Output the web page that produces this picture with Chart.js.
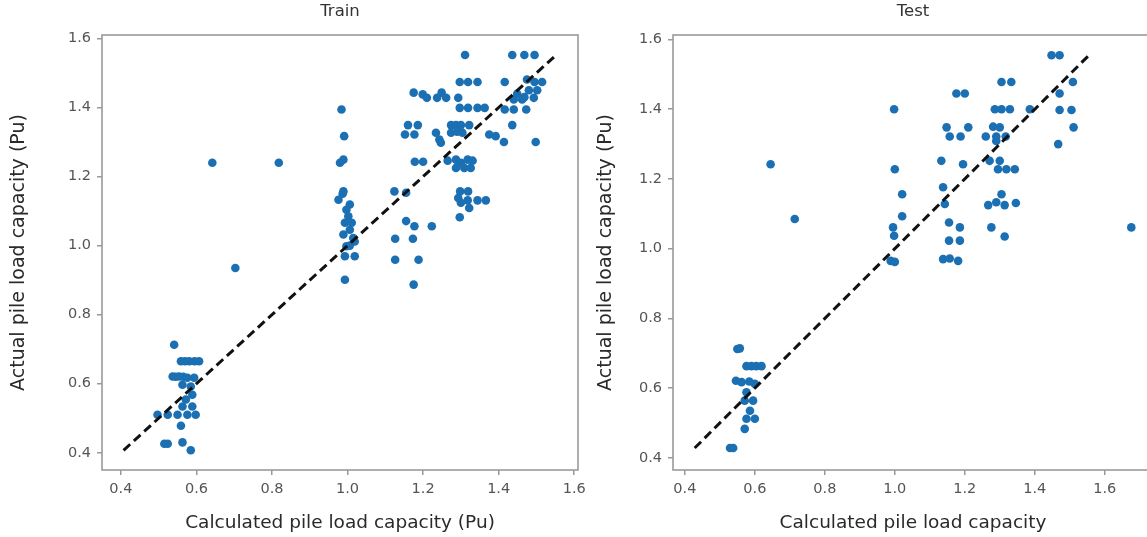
<!DOCTYPE html>
<html>
<head>
<meta charset="utf-8">
<script src="https://cdn.jsdelivr.net/npm/chart.js@4.4.1/dist/chart.umd.min.js"></script>
<style>
  html, body { margin: 0; padding: 0; background: #fff; overflow: hidden; width: 1147px; height: 537px; }
  .panel { position: absolute; top: 0; height: 537px; width: 600px; }
  #panelTrain { left: 0; }
  #panelTest { left: 590px; }
</style>
</head>
<body>
<div class="panel" id="panelTrain"><canvas id="train"></canvas></div>
<div class="panel" id="panelTest"><canvas id="test"></canvas></div>
<script>
// calculated vs actual pile load capacity (Pu)
const trainCalc = [
  0.541, 0.559, 0.570, 0.581, 0.595, 0.607, 0.537, 0.545, 0.554, 0.565, 0.576, 0.594,
  0.563, 0.585, 0.589, 0.572, 0.589, 0.563, 0.497, 0.524, 0.550, 0.576, 0.598, 0.559,
  0.515, 0.524, 0.563, 0.585,
  0.642, 0.818, 0.703,
  0.984, 0.991, 0.980, 0.989, 0.989, 0.987, 0.976, 1.006, 0.997, 1.002, 0.993, 1.011,
  1.006, 0.989, 1.015, 1.019, 0.997, 1.006, 0.993, 1.019, 0.993,
  1.311, 1.436, 1.468, 1.495,
  1.297, 1.319, 1.344, 1.416, 1.475, 1.495, 1.515,
  1.175, 1.199, 1.210, 1.237, 1.249, 1.261, 1.293,
  1.449, 1.468, 1.480, 1.502, 1.440, 1.462, 1.493,
  1.297, 1.319, 1.344, 1.363, 1.416, 1.440, 1.473,
  1.160, 1.186, 1.274, 1.287, 1.300, 1.322,
  1.152, 1.177, 1.234, 1.274, 1.290, 1.304,
  1.243, 1.247, 1.375, 1.392, 1.436, 1.414, 1.498,
  1.178, 1.200, 1.265, 1.287, 1.300, 1.318, 1.331,
  1.287, 1.309, 1.326,
  1.124, 1.155, 1.298, 1.319,
  1.293, 1.318, 1.344, 1.366, 1.300, 1.322, 1.297,
  1.155, 1.177, 1.223, 1.126, 1.173, 1.126, 1.188, 1.175
];
const trainActual = [
  0.713, 0.665, 0.665, 0.665, 0.665, 0.665, 0.621, 0.620, 0.621, 0.620, 0.617, 0.617,
  0.597, 0.592, 0.568, 0.554, 0.534, 0.534, 0.510, 0.510, 0.510, 0.510, 0.510, 0.478,
  0.426, 0.426, 0.430, 0.407,
  1.240, 1.240, 0.935,
  1.394, 1.317, 1.240, 1.249, 1.157, 1.150, 1.133, 1.119, 1.104, 1.085, 1.066, 1.066,
  1.046, 1.032, 1.022, 1.012, 0.998, 1.000, 0.969, 0.969, 0.901,
  1.552, 1.552, 1.552, 1.552,
  1.474, 1.474, 1.474, 1.474, 1.481, 1.474, 1.474,
  1.443, 1.438, 1.428, 1.428, 1.443, 1.428, 1.428,
  1.440, 1.430, 1.450, 1.450, 1.423, 1.423, 1.428,
  1.399, 1.399, 1.399, 1.399, 1.394, 1.394, 1.394,
  1.349, 1.349, 1.349, 1.349, 1.349, 1.349,
  1.322, 1.322, 1.327, 1.327, 1.330, 1.327,
  1.307, 1.298, 1.322, 1.317, 1.349, 1.300, 1.300,
  1.243, 1.243, 1.246, 1.249, 1.240, 1.249, 1.246,
  1.225, 1.225, 1.225,
  1.157, 1.153, 1.157, 1.157,
  1.138, 1.131, 1.131, 1.131, 1.124, 1.109, 1.082,
  1.071, 1.056, 1.056, 1.020, 1.020, 0.959, 0.959, 0.887
];
const testCalc = [
  0.557, 0.550, 0.576, 0.590, 0.604, 0.619, 0.546, 0.562, 0.584, 0.600,
  0.576, 0.571, 0.595, 0.586, 0.576, 0.600, 0.571, 0.529, 0.538,
  0.645, 0.714,
  0.998, 1.000, 1.021, 1.021, 0.995, 0.998, 0.988, 1.000,
  1.448, 1.471, 1.305, 1.333, 1.509, 1.176, 1.200, 1.471,
  1.286, 1.305, 1.329, 1.386, 1.471, 1.505,
  1.148, 1.210, 1.281, 1.300, 1.511,
  1.157, 1.188, 1.260, 1.290, 1.317, 1.290, 1.467,
  1.133, 1.195, 1.271, 1.300, 1.295, 1.319, 1.343,
  1.138, 1.305, 1.143, 1.267, 1.290, 1.314, 1.346,
  1.155, 1.186, 1.276, 1.314, 1.155, 1.186, 1.138, 1.157, 1.181,
  1.676
];
const testActual = [
  0.714, 0.712, 0.663, 0.663, 0.663, 0.663, 0.621, 0.617, 0.619, 0.612,
  0.588, 0.564, 0.564, 0.535, 0.512, 0.512, 0.483, 0.428, 0.428,
  1.242, 1.085,
  1.400, 1.228, 1.156, 1.093, 1.061, 1.037, 0.965, 0.962,
  1.555, 1.555, 1.478, 1.478, 1.478, 1.445, 1.445, 1.445,
  1.400, 1.400, 1.400, 1.400, 1.398, 1.398,
  1.348, 1.348, 1.350, 1.348, 1.348,
  1.322, 1.322, 1.322, 1.322, 1.322, 1.309, 1.300,
  1.252, 1.242, 1.252, 1.252, 1.228, 1.228, 1.228,
  1.176, 1.156, 1.128, 1.125, 1.133, 1.125, 1.131,
  1.075, 1.061, 1.061, 1.035, 1.023, 1.023, 0.970, 0.972, 0.965,
  1.061
];
const tickValues = [0.4, 0.6, 0.8, 1.0, 1.2, 1.4, 1.6];

const pointBlue = '#1b6fb3';
const tickFont = { family: 'DejaVu Sans', size: 14.5 };

// full box round the plot area, like axes spines
const frame = {
  id: 'frame',
  afterDatasetsDraw(chart) {
    const { ctx, chartArea: a } = chart;
    ctx.save();
    ctx.strokeStyle = '#9a9a9a';
    ctx.lineWidth = 1.6;
    ctx.strokeRect(a.left, a.top, a.right - a.left, a.bottom - a.top);
    ctx.restore();
  }
};

function makePanel(canvasId, title, calc, actual, opts) {
  const pts = calc.map((x, i) => ({ x: x, y: actual[i] }));
  const lo = Math.min(...actual), hi = Math.max(...actual);
  const tickAxis = (extra) => Object.assign({
    type: 'linear',
    afterBuildTicks: s => { s.ticks = tickValues.map(v => ({ value: v })); },
    ticks: { font: tickFont, color: '#555', padding: 6, callback: v => v.toFixed(1) },
    grid: { drawOnChartArea: false, drawTicks: true, tickLength: 5, color: '#999', lineWidth: 1.5 },
    border: { display: false }
  }, extra);

  return new Chart(document.getElementById(canvasId), {
    type: 'scatter',
    data: {
      datasets: [
        {
          label: 'ideal',
          data: [{ x: lo, y: lo }, { x: hi, y: hi }],
          showLine: true,
          borderColor: '#111',
          borderWidth: 3,
          borderDash: [9, 5],
          pointRadius: 0
        },
        {
          label: title,
          data: pts,
          backgroundColor: pointBlue,
          borderWidth: 0,
          pointRadius: 4.3
        }
      ]
    },
    options: {
      responsive: true,
      maintainAspectRatio: false,
      animation: false,
      layout: { padding: { left: 0, top: 0, bottom: 0, right: opts.padRight } },
      scales: {
        x: tickAxis({
          min: opts.xMin, max: opts.xMax,
          title: { display: true, text: opts.xTitle, font: { family: 'DejaVu Sans', size: 18.5 }, color: '#2a2a2a', padding: { top: 0, bottom: 3 } },
          afterFit: s => { s.height = 67; }
        }),
        y: tickAxis({
          min: opts.yMin, max: opts.yMax,
          title: { display: true, text: 'Actual pile load capacity (Pu)', font: { family: 'DejaVu Sans', size: 19 }, color: '#2a2a2a', padding: { top: opts.yTitlePad, bottom: 0 } },
          afterFit: s => { s.width = opts.yWidth; }
        })
      },
      plugins: {
        legend: { display: false },
        tooltip: { enabled: false },
        title: {
          display: true,
          text: title,
          fullSize: false,
          color: '#333',
          font: { family: 'DejaVu Sans', size: 16.5, weight: 'normal' },
          padding: { top: 2, bottom: 13.2 }
        }
      }
    },
    plugins: [frame]
  });
}

makePanel('train', 'Train', trainCalc, trainActual, {
  xMin: 0.35, xMax: 1.61, yMin: 0.35, yMax: 1.61,
  padRight: 22, yWidth: 102, yTitlePad: 8,
  xTitle: 'Calculated pile load capacity (Pu)'
});

makePanel('test', 'Test', testCalc, testActual, {
  xMin: 0.366, xMax: 1.738, yMin: 0.365, yMax: 1.613,
  padRight: 37, yWidth: 83, yTitlePad: 5,
  xTitle: 'Calculated pile load capacity'
});
</script>
</body>
</html>
